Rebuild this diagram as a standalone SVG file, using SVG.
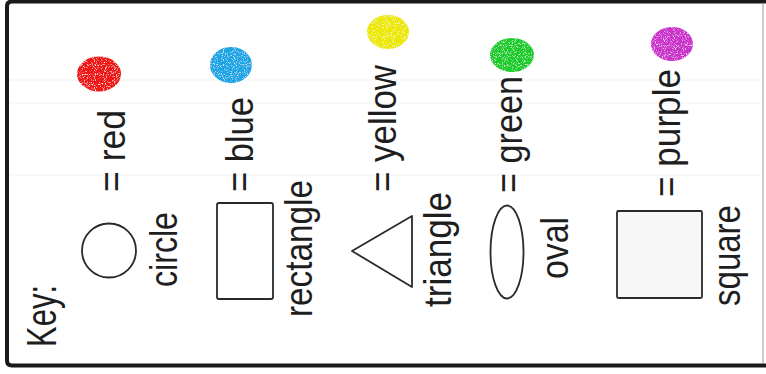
<svg xmlns="http://www.w3.org/2000/svg" width="766" height="374" viewBox="0 0 766 374">
  <style>
    .t { font-family: "Liberation Sans", Arial, sans-serif; font-size: 38px; fill: #1e1e1e; }
    .k { font-size: 42px; }
    .shape { fill: #ffffff; stroke: #2a2a2a; stroke-width: 1.8; }
    .sq { fill: #f7f7f7; }
    .faint { stroke: #f2f2f2; stroke-width: 1; }
    .dot { filter: url(#glitter); }
  </style>
  <defs>
    <filter id="glitter" x="-10%" y="-10%" width="120%" height="120%">
      <feTurbulence type="fractalNoise" baseFrequency="0.9" numOctaves="1" seed="7" result="noise"/>
      <feColorMatrix in="noise" type="matrix" values="0 0 0 0 1  0 0 0 0 1  0 0 0 0 1  4 0 0 0 -2.2" result="spots"/>
      <feComposite in="spots" in2="SourceGraphic" operator="in" result="clipped"/>
      <feMerge>
        <feMergeNode in="SourceGraphic"/>
        <feMergeNode in="clipped"/>
      </feMerge>
    </filter>
  </defs>

  <rect x="0" y="0" width="766" height="374" fill="#ffffff"/>

  <g id="background-lines">
    <line class="faint" x1="9" y1="80" x2="762" y2="80"/>
    <line class="faint" x1="9" y1="103" x2="762" y2="103"/>
    <line class="faint" x1="9" y1="175" x2="762" y2="175"/>
  </g>

  <g id="frame">
    <path d="M 766 1.5 H 12 Q 7 1.5 7 6.5 V 360.5 Q 7 365.5 12 365.5 H 766" fill="none" stroke="#1a1a1a" stroke-width="4"/>
    <line x1="763" y1="3" x2="763" y2="363" stroke="#9a9a9a" stroke-width="1"/>
  </g>

  <g id="key-title">
    <text class="t k" transform="translate(56,347) rotate(-90)" textLength="62" lengthAdjust="spacingAndGlyphs">Key:</text>
  </g>

  <g id="circle-red">
    <ellipse class="dot" cx="99" cy="74" rx="22" ry="17.5" fill="#f01818"/>
    <text class="t" transform="translate(125,192) rotate(-90)" textLength="82" lengthAdjust="spacingAndGlyphs">= red</text>
    <circle class="shape" cx="109" cy="250.5" r="27"/>
    <text class="t" transform="translate(177,287) rotate(-90)" textLength="75" lengthAdjust="spacingAndGlyphs">circle</text>
  </g>

  <g id="rectangle-blue">
    <ellipse class="dot" cx="231" cy="65" rx="21" ry="18" fill="#1aa6e6"/>
    <text class="t" transform="translate(253,192) rotate(-90)" textLength="95" lengthAdjust="spacingAndGlyphs">= blue</text>
    <rect class="shape" x="217" y="203" width="56" height="96" rx="2"/>
    <text class="t" transform="translate(312,317) rotate(-90)" textLength="137" lengthAdjust="spacingAndGlyphs">rectangle</text>
  </g>

  <g id="triangle-yellow">
    <ellipse class="dot" cx="388" cy="32" rx="21" ry="17" fill="#ece800"/>
    <text class="t" transform="translate(396,192) rotate(-90)" textLength="127" lengthAdjust="spacingAndGlyphs">= yellow</text>
    <polygon class="shape" points="352,251 412,216 412,287" stroke-linejoin="round"/>
    <text class="t" transform="translate(451,307) rotate(-90)" textLength="115" lengthAdjust="spacingAndGlyphs">triangle</text>
  </g>

  <g id="oval-green">
    <ellipse class="dot" cx="512" cy="55" rx="22" ry="17" fill="#1ccc2a"/>
    <text class="t" transform="translate(522,193) rotate(-90)" textLength="117" lengthAdjust="spacingAndGlyphs">= green</text>
    <ellipse class="shape" cx="507" cy="252" rx="16.5" ry="46.5"/>
    <text class="t" transform="translate(568,279) rotate(-90)" textLength="62" lengthAdjust="spacingAndGlyphs">oval</text>
  </g>

  <g id="square-purple">
    <ellipse class="dot" cx="672" cy="44" rx="21" ry="17" fill="#cc30cc"/>
    <text class="t" transform="translate(680,197) rotate(-90)" textLength="128" lengthAdjust="spacingAndGlyphs">= purple</text>
    <rect class="shape sq" x="617" y="211" width="85" height="87" rx="1.5"/>
    <text class="t" transform="translate(740,306) rotate(-90)" textLength="101" lengthAdjust="spacingAndGlyphs">square</text>
  </g>

  <g id="connectors"/>
</svg>
